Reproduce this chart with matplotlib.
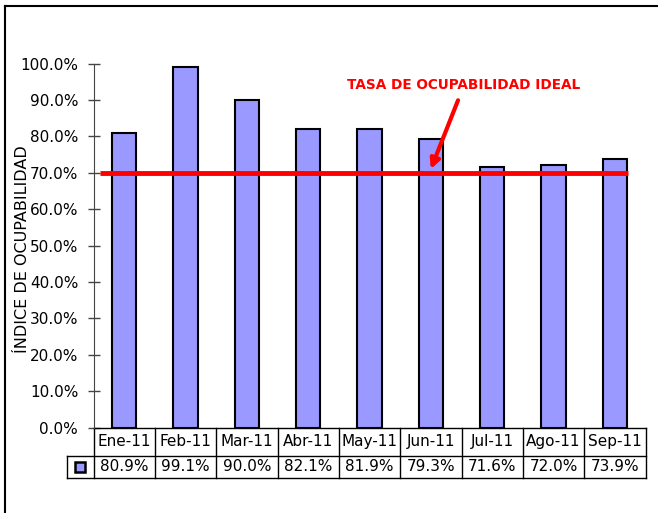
import matplotlib
matplotlib.use("Agg")
import matplotlib.pyplot as plt
from matplotlib.patches import Rectangle
from matplotlib.lines import Line2D

# data
months = ["Ene-11", "Feb-11", "Mar-11", "Abr-11", "May-11", "Jun-11", "Jul-11", "Ago-11", "Sep-11"]
occupancy = [0.809, 0.991, 0.900, 0.821, 0.819, 0.793, 0.716, 0.720, 0.739]
ideal_rate = 0.70
y_ticks = [0.0, 0.1, 0.2, 0.3, 0.4, 0.5, 0.6, 0.7, 0.8, 0.9, 1.0]

BAR_COLOR = "#9999ff"
FONT = 11

W, H = 658, 513
fig = plt.figure(figsize=(W / 100, H / 100), dpi=100)

# outer chart frame (top and left edges visible)
fig.add_artist(Line2D([5 / W, 1.0], [1 - 6 / H, 1 - 6 / H], transform=fig.transFigure, color="black", lw=1.5))
fig.add_artist(Line2D([5 / W, 5 / W], [0.0, 1 - 6 / H], transform=fig.transFigure, color="black", lw=1.5))

left, right, top, bottom = 93.5, 645.5, 63.5, 427.5
ax_w, ax_h = right - left, bottom - top
ax = fig.add_axes([left / W, 1 - bottom / H, ax_w / W, ax_h / H])

n = len(months)
xs = list(range(n))
ax.bar(xs, occupancy, width=0.40, color=BAR_COLOR, edgecolor="black", linewidth=1.5, zorder=2)
ax.set_xlim(-0.5, n - 0.5)
ax.set_ylim(0, 1.0)

ax.set_yticks(y_ticks)
ax.set_yticklabels([f"{v * 100:.1f}%" for v in y_ticks], fontsize=FONT)
ax.tick_params(axis="y", direction="inout", length=8, width=1, color="#444444", pad=7)
ax.set_xticks([])
for side in ["top", "right", "bottom"]:
    ax.spines[side].set_visible(False)
ax.spines["left"].set_color("#444444")

ax.set_ylabel("ÍNDICE DE OCUPABILIDAD", fontsize=11.5)
ax.yaxis.set_label_coords(-(left - 23) / ax_w, 0.5 + (427.5 - 249 - ax_h / 2) / ax_h)
ax.yaxis.label.set_va("center")

# ideal occupancy line
ax.plot([-0.394, 8.22], [ideal_rate, ideal_rate], color="red", lw=3.5, zorder=3, solid_capstyle="butt")

ax.annotate(
    "TASA DE OCUPABILIDAD IDEAL",
    xy=(5.0, ideal_rate + 0.01),
    xytext=(5.54, 0.94),
    fontsize=9.8,
    fontweight="bold",
    color="red",
    ha="center",
    va="center",
    arrowprops=dict(arrowstyle="-|>", color="red", lw=3, mutation_scale=14, shrinkA=4, shrinkB=0),
    zorder=4,
)

# data table below the axis
row1_h = 28 / ax_h
row2_h = 22 / ax_h
key_left = (67 - left) / ax_w
t = ax.transAxes
line_kw = dict(transform=t, color="black", lw=1, clip_on=False)
y1 = -row1_h
y2 = -row1_h - row2_h
ax.add_line(Line2D([0, 1], [0, 0], **line_kw))
ax.add_line(Line2D([key_left, 1], [y1, y1], **line_kw))
ax.add_line(Line2D([key_left, 1], [y2, y2], **line_kw))
ax.add_line(Line2D([key_left, key_left], [y1, y2], **line_kw))
for i in range(n + 1):
    ax.add_line(Line2D([i / n, i / n], [0, y2], **line_kw))

for i, (m, v) in enumerate(zip(months, occupancy)):
    cx = (i + 0.5) / n
    ax.text(cx, y1 / 2, m, transform=t, ha="center", va="center", fontsize=FONT, clip_on=False)
    ax.text(cx, (y1 + y2) / 2, f"{v * 100:.1f}%", transform=t, ha="center", va="center",
            fontsize=FONT, clip_on=False)

key_w = 10 / ax_w
key_h = 10 / ax_h
ax.add_patch(Rectangle((key_left / 2 - key_w / 2, (y1 + y2) / 2 - key_h / 2), key_w, key_h,
                       transform=t, facecolor=BAR_COLOR, edgecolor="black", lw=1.8, clip_on=False))

fig.savefig("out.png", dpi=100)
